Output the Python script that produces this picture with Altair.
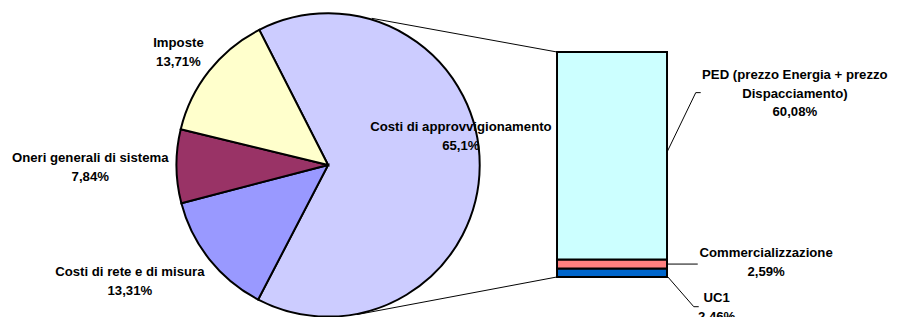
import math
import altair as alt
import pandas as pd

# ---- data ----
pie_names = ["Costi di approvvigionamento", "Costi di rete e di misura",
             "Oneri generali di sistema", "Imposte"]
pie_values = [65.1, 13.31, 7.84, 13.71]
pie_colors = ["#CCCCFF", "#9999FF", "#993366", "#FFFFCC"]

bar_names = ["UC1", "Commercializzazione", "PED (prezzo Energia + prezzo\nDispacciamento)"]
bar_values = [2.46, 2.59, 60.08]
bar_colors = ["#0066CC", "#FF8080", "#CCFFFF"]


def pct(v):
    return str(v).replace(".", ",") + "%"


pie_df = pd.DataFrame({"name": pie_names, "value": pie_values,
                       "ord": list(range(len(pie_names)))})
pie_df["label"] = [n + "\n" + pct(v) for n, v in zip(pie_names, pie_values)]
pie_df["idx"] = range(len(pie_df))

bar_df = pd.DataFrame({"name": bar_names, "value": bar_values,
                       "ord": list(range(len(bar_names)))})
bar_df["label"] = [n + "\n" + pct(v) for n, v in zip(bar_names, bar_values)]
bar_df["idx"] = range(len(bar_df))

all_names = pie_names + bar_names
all_colors = pie_colors + bar_colors

# ---- layout (style constants, plot px; page offset 8px) ----
OFF = 8
W, H = 889, 309
CX, CY, R = 331 - OFF, 165 - OFF, 153
START = math.radians(333)
BAR_X0, BAR_X1 = 562 - OFF, 673 - OFF
BAR_TOP, BAR_BOT = 51 - OFF, 278 - OFF
FONT = "Liberation Sans"
FS = 13.3
LH = 19

color = alt.Color("name:N", scale=alt.Scale(domain=all_names, range=all_colors), legend=None)

pie = alt.Chart(pie_df).mark_arc(outerRadius=R, stroke="black", strokeWidth=2).encode(
    theta=alt.Theta("value:Q", stack=True,
                    scale=alt.Scale(range=[START, START + 2 * math.pi])),
    order=alt.Order("ord:Q"),
    color=color,
    x=alt.value(CX), y=alt.value(CY),
)

bar = alt.Chart(bar_df).transform_stack(
    stack="value", groupby=[], as_=["y0", "y1"],
    sort=[alt.SortField("ord", order="ascending")],
).mark_rect(stroke="black", strokeWidth=2).encode(
    x=alt.value(BAR_X0), x2=alt.value(BAR_X1),
    y=alt.Y("y0:Q", axis=None,
            scale=alt.Scale(domain=[0, sum(bar_values)], range=[BAR_BOT, BAR_TOP],
                            nice=False, zero=True)),
    y2="y1:Q",
    color=color,
)

# connector / leader segments (image coords)
segments = [
    ((375, 17), (562, 51)),
    ((360, 316), (562, 278)),
    ((673, 152), (702, 92)),
    ((702, 92), (707, 92)),
    ((673, 265), (704, 265)),
    ((673, 277), (700, 308)),
    ((700, 308), (705, 308)),
]
rules = []
for (x1, y1), (x2, y2) in segments:
    rules.append(
        alt.Chart(pie_df).transform_filter(alt.datum.idx == 0).mark_rule(
            color="black", strokeWidth=1).encode(
            x=alt.value(x1 - OFF), y=alt.value(y1 - OFF),
            x2=alt.value(x2 - OFF), y2=alt.value(y2 - OFF))
    )

# label first-line centres (image coords)
pie_label_pos = [(465, 127), (131, 273), (91, 158), (180, 42)]
bar_label_pos = [(723, 299), (773, 254), (802, 74)]

texts = []
for df, positions in ((pie_df, pie_label_pos), (bar_df, bar_label_pos)):
    for i, (lx, ly) in enumerate(positions):
        texts.append(
            alt.Chart(df).transform_filter(alt.datum.idx == i).mark_text(
                font=FONT, fontSize=FS, fontWeight="bold", color="black",
                align="center", baseline="middle", lineBreak="\n", lineHeight=LH,
            ).encode(text="label:N", x=alt.value(lx - OFF), y=alt.value(ly - OFF))
        )

chart = alt.layer(pie, bar, *rules, *texts).properties(
    width=W, height=H, padding=0, autosize=alt.AutoSizeParams(type="none"),
    background="white",
).configure_view(stroke=None)

chart.save("out.html", embed_options={"renderer": "svg", "actions": False})
